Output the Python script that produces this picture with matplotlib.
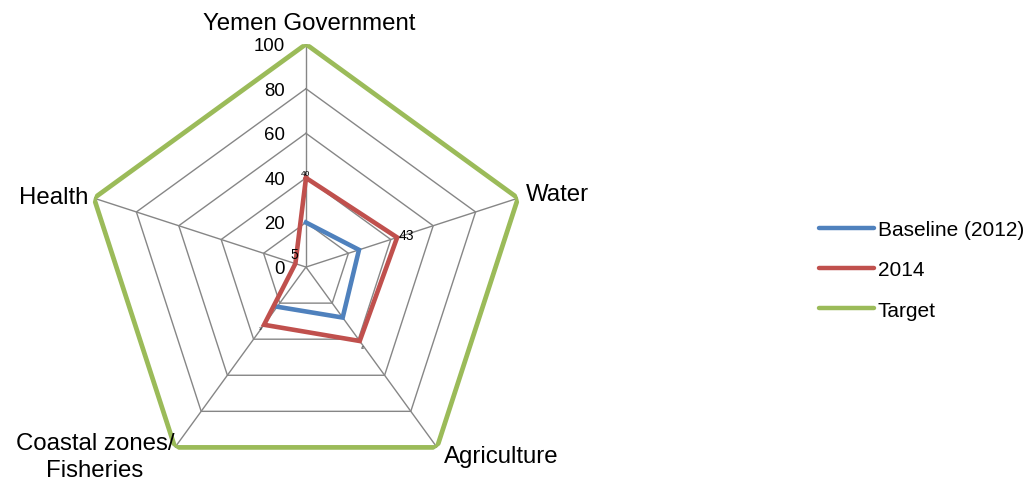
import numpy as np
import matplotlib
matplotlib.use("Agg")
import matplotlib.pyplot as plt
from matplotlib.lines import Line2D

plt.rcParams["font.family"] = ["Liberation Sans", "DejaVu Sans"]

# data
categories = ["Yemen Government", "Water", "Agriculture", "Coastal zones/\nFisheries", "Health"]
baseline = [20, 25, 28, 22, None]   # no Health value in baseline
y2014 = [40, 43, 41, 32, 5]
target = [100, 100, 100, 100, 100]
ring_ticks = [0, 20, 40, 60, 80, 100]

c_base = "#4F81BD"
c_2014 = "#C0504D"
c_target = "#9BBB59"
c_grid = "#868686"

n = len(categories)
angles = np.linspace(0, 2 * np.pi, n, endpoint=False)

fig = plt.figure(figsize=(10.32, 4.81), dpi=100)
ax = fig.add_axes([0.0805, -0.0208, 0.432, 0.927], projection="polar")
ax.set_theta_zero_location("N")
ax.set_theta_direction(-1)
ax.set_ylim(0, 100)
ax.grid(False)
ax.spines["polar"].set_visible(False)
ax.set_xticks([])
ax.set_yticks([])
ax.patch.set_alpha(0)

# pentagon grid
th_closed = np.append(angles, angles[0])
for r in ring_ticks[1:]:
    ax.plot(th_closed, [r] * (n + 1), color=c_grid, lw=1.0, zorder=1)
for a in angles:
    ax.plot([a, a], [0, 100], color=c_grid, lw=1.0, zorder=1)

# radial tick labels
for r in ring_ticks:
    ax.annotate(str(r), xy=(0, r), xytext=(-15, -1), textcoords="offset points",
                ha="right", va="center", fontsize=13.4)

def closed(vals):
    return np.append(angles, angles[0]), vals + [vals[0]]

# series
ax.plot(*closed(target), color=c_target, lw=3.4, zorder=3, solid_joinstyle="miter")
ax.plot(*closed(y2014), color=c_2014, lw=3.3, zorder=4, solid_joinstyle="miter")
bvals = [np.nan if v is None else v for v in baseline]
ax.plot(angles[:4], bvals[:4], color=c_base, lw=3.3, zorder=3, solid_joinstyle="miter")

# data labels on 2014 series
lab_off = [(0, 3, 6), (6.5, 1.5, 10), (2, -4, 2.5), (-2, -2, 2.5), (-0.5, 7, 10)]
for a, v, (dx, dy, fs) in zip(angles, y2014, lab_off):
    ax.annotate(str(v), xy=(a, v), xytext=(dx, dy), textcoords="offset points",
                ha="center", va="center", fontsize=fs, zorder=6)

# category labels
cat_pos = [((2, 15), "center", "center"),
           ((6, 3), "left", "center"),
           ((5, -6.5), "left", "center"),
           ((-0.5, -6.5), "right", "center"),
           ((-4, 1), "right", "center")]
for a, lab, ((dx, dy), ha, va) in zip(angles, categories, cat_pos):
    ax.annotate(lab, xy=(a, 100), xytext=(dx, dy), textcoords="offset points",
                ha=ha, va=va, fontsize=17.3, multialignment="center",
                linespacing=1.25)

handles = [Line2D([], [], color=c_base, lw=3.2, solid_capstyle="round"),
           Line2D([], [], color=c_2014, lw=3.2, solid_capstyle="round"),
           Line2D([], [], color=c_target, lw=3.2, solid_capstyle="round")]
fig.legend(handles, ["Baseline (2012)", "2014", "Target"], loc="center left",
           bbox_to_anchor=(0.775, 0.437), frameon=False, fontsize=15,
           handlelength=2.65, handletextpad=0.2, labelspacing=1.02)

fig.savefig("out.png", dpi=100)
